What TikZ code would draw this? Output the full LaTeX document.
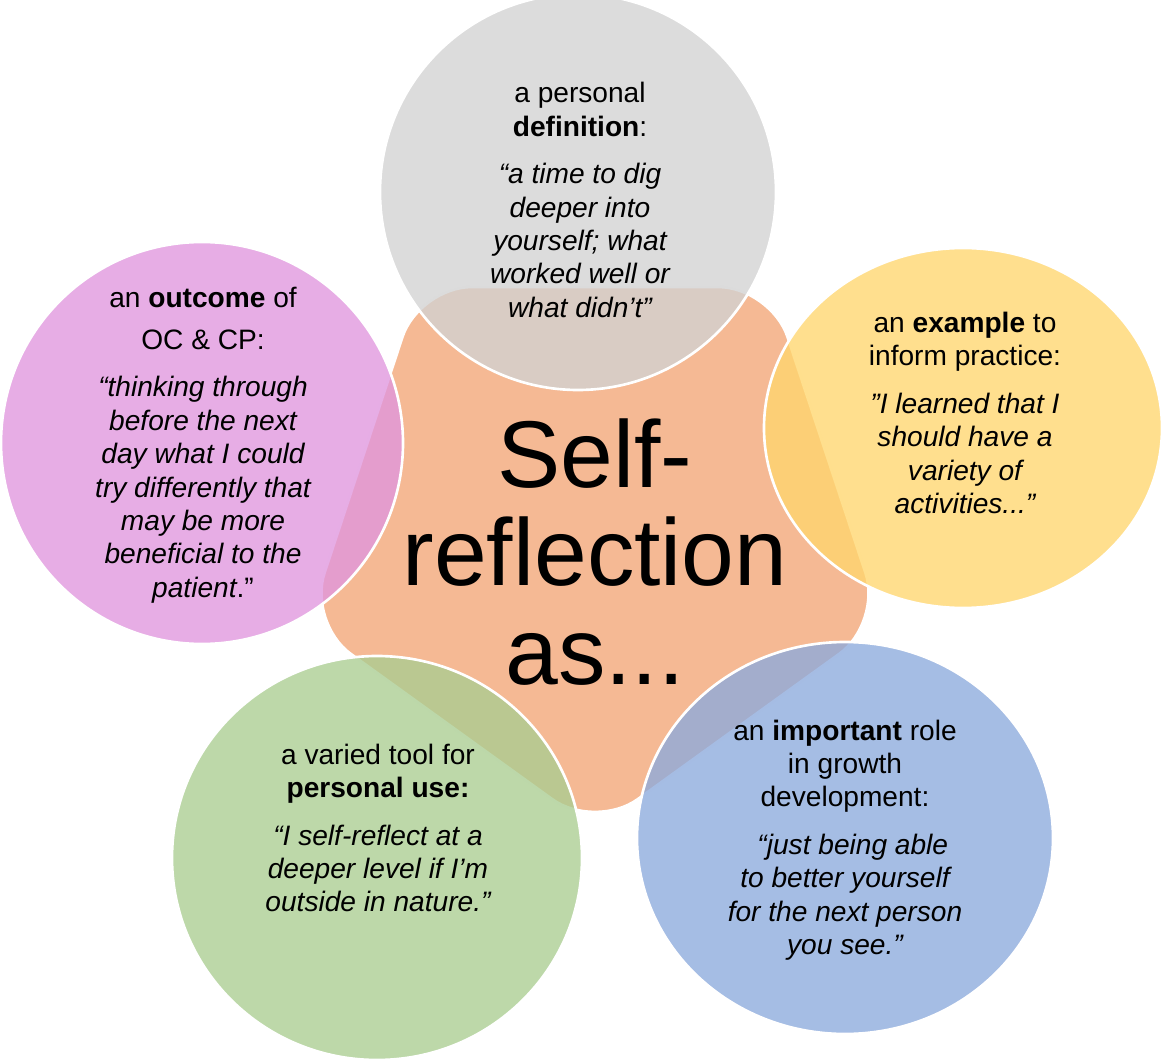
\documentclass[tikz,border=0pt]{standalone}
\usepackage{fontspec}
\setmainfont{Liberation Sans}
\definecolor{coreorange}{RGB}{245,185,148}
\definecolor{defgray}{RGB}{210,210,210}
\definecolor{outpink}{RGB}{224,150,222}
\definecolor{exyellow}{RGB}{255,214,110}
\definecolor{usegreen}{RGB}{170,205,145}
\definecolor{roleblue}{RGB}{140,170,220}
\tikzset{
  bubble/.style={draw=white, line width=1.5pt, fill opacity=0.78},
  quote/.style={align=center, font=\fontsize{16}{19}\selectfont, inner sep=0pt}
}
\begin{document}
\begin{tikzpicture}[x=0.02cm, y=-0.02cm]
    \useasboundingbox (0,0) rectangle (1164,1064);

    % Central pentagon
    \fill[coreorange, draw=white, line width=1.5pt, rounded corners=30pt]
        (595,830) -- (882,623) -- (771,287) -- (419,287) -- (308,623) -- cycle;

    % Surrounding bubbles
    \fill[defgray, bubble] (578,192) circle (198);
    \fill[outpink, bubble] (202,443) circle (201);
    \fill[exyellow, bubble] (963,428) ellipse (199 and 180);
    \fill[usegreen, bubble] (377,858) ellipse (205 and 202);
    \fill[roleblue, bubble] (845,838) ellipse (208 and 196);

    % Texts
    \node[align=center, font=\fontsize{54}{56}\selectfont, inner sep=0pt] (title) at (595,552)
        {Self-\\reflection\\as...};
    \node[quote] (def) at (580,200) {a personal\\\textbf{definition}:\\[8pt]
        \itshape “a time to dig\\\itshape deeper into\\\itshape yourself; what\\\itshape worked well or\\\itshape what didn’t”};
    \node[quote] (out) at (203,445) {an \textbf{outcome} of\\[5pt] OC \& CP:\\[8pt]
        \itshape “thinking through\\\itshape before the next\\\itshape day what I could\\\itshape try differently that\\\itshape may be more\\\itshape beneficial to the\\\itshape patient\upshape.”};
    \node[quote] (ex) at (965,413) {an \textbf{example} to\\inform practice:\\[8pt]
        \itshape "I learned that I\\\itshape should have a\\\itshape variety of\\\itshape activities..."};
    \node[quote] (use) at (378,828) {a varied tool for\\\textbf{personal use:}\\[8pt]
        \itshape “I self-reflect at a\\\itshape deeper level if I’m\\\itshape outside in nature."};
    \node[quote] (role) at (845,840) {an \textbf{important} role\\in growth\\development:\\[8pt]
        \itshape \ \ “just being able\\\itshape to better yourself\\\itshape for the next person\\\itshape you see.”};
\end{tikzpicture}
\end{document}
